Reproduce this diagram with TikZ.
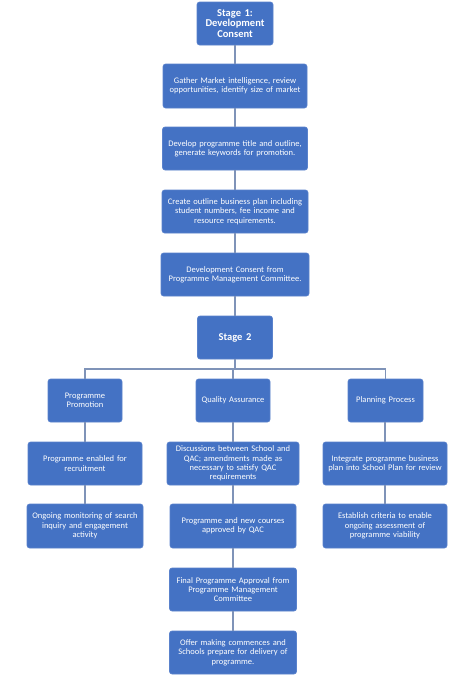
\documentclass[tikz,border=0pt]{standalone}
\usepackage{fontspec}
\setmainfont{Carlito}
\definecolor{boxblue}{HTML}{4472C4}
\definecolor{boxedge}{HTML}{5A82CC}
\definecolor{linkcol}{HTML}{7F93B8}
\begin{document}
\begin{tikzpicture}[x=1pt,y=-1pt,
  box/.style={draw=boxedge,line width=0.6pt,fill=boxblue,rounded corners=2.5pt,
    text=white,align=center,inner sep=1pt,font=\fontsize{8.5}{9.3}\selectfont},
  stagebox/.style={box,font=\fontsize{10.5}{10.6}\selectfont\bfseries},
  link/.style={draw=linkcol,line width=1.1pt}]
\useasboundingbox (0,0) rectangle (474,675);
\fill[white] (0,0) rectangle (474,675);
% Stage 1 column
\node[stagebox,minimum width=76pt,minimum height=43pt,text width=72pt] (s1) at (235,23.5) {Stage 1:\\Development\\Consent};
\node[box,minimum width=144pt,minimum height=44pt,text width=142pt] (g) at (235,86) {Gather Market intelligence, review\\opportunities, identify size of market};
\node[box,minimum width=145pt,minimum height=43pt,text width=143pt] (d) at (235,148.5) {Develop programme title and outline,\\generate keywords for promotion.};
\node[box,minimum width=146pt,minimum height=43pt,text width=144pt] (c) at (235,211.5) {Create outline business plan including\\student numbers, fee income and\\resource requirements.};
\node[box,minimum width=148pt,minimum height=43pt,text width=146pt] (dc) at (235,274.5) {Development Consent from\\Programme Management Committee.};
\node[stagebox,minimum width=75pt,minimum height=43pt,text width=72pt] (s2) at (235,337.5) {Stage 2};
% level 1
\node[box,minimum width=74pt,minimum height=43pt,text width=72pt] (pp) at (85,400.5) {Programme\\Promotion};
\node[box,minimum width=74pt,minimum height=43pt,text width=72pt] (qa) at (233,400.5) {Quality Assurance};
\node[box,minimum width=75pt,minimum height=43pt,text width=73pt] (pl) at (385.5,400.5) {Planning Process};
% level 2
\node[box,minimum width=114pt,minimum height=43pt,text width=110pt] (pe) at (85,463.5) {Programme enabled for\\recruitment};
\node[box,minimum width=132pt,minimum height=43pt,text width=130pt] (ds) at (233,463.5) {Discussions between School and\\QAC; amendments made as\\necessary to satisfy QAC\\requirements};
\node[box,minimum width=124pt,minimum height=43pt,text width=122pt] (ip) at (385,463.5) {Integrate programme business\\plan into School Plan for review};
% level 3
\node[box,minimum width=116pt,minimum height=44pt,text width=114pt] (om) at (85,526) {Ongoing monitoring of search\\inquiry and engagement\\activity};
\node[box,minimum width=126pt,minimum height=44pt,text width=122pt] (pa) at (233,526) {Programme and new courses\\approved by QAC};
\node[box,minimum width=124pt,minimum height=44pt,text width=122pt] (ec) at (385,526) {Establish criteria to enable\\ongoing assessment of\\programme viability};
% level 4, 5
\node[box,minimum width=127pt,minimum height=43pt,text width=124pt] (fa) at (233,589.5) {Final Programme Approval from\\Programme Management\\Committee};
\node[box,minimum width=127pt,minimum height=43pt,text width=124pt] (of) at (233,652.5) {Offer making commences and\\Schools prepare for delivery of\\programme.};
% connectors
\draw[link] (s1) -- (g);
\draw[link] (g) -- (d);
\draw[link] (d) -- (c);
\draw[link] (c) -- (dc);
\draw[link] (dc) -- (s2);
\coordinate (bar) at (235,369);
\draw[link] (s2.south) -- (bar);
\draw[link] (pp.north) |- (bar) -| (pl.north);
\draw[link] (qa.north) -- (qa.north |- bar);
\draw[link] (pp) -- (pe);
\draw[link] (pe) -- (om);
\draw[link] (qa) -- (ds);
\draw[link] (ds) -- (pa);
\draw[link] (pa) -- (fa);
\draw[link] (fa) -- (of);
\draw[link] (pl.south -| ip.north) -- (ip);
\draw[link] (ip) -- (ec);
\end{tikzpicture}
\end{document}
